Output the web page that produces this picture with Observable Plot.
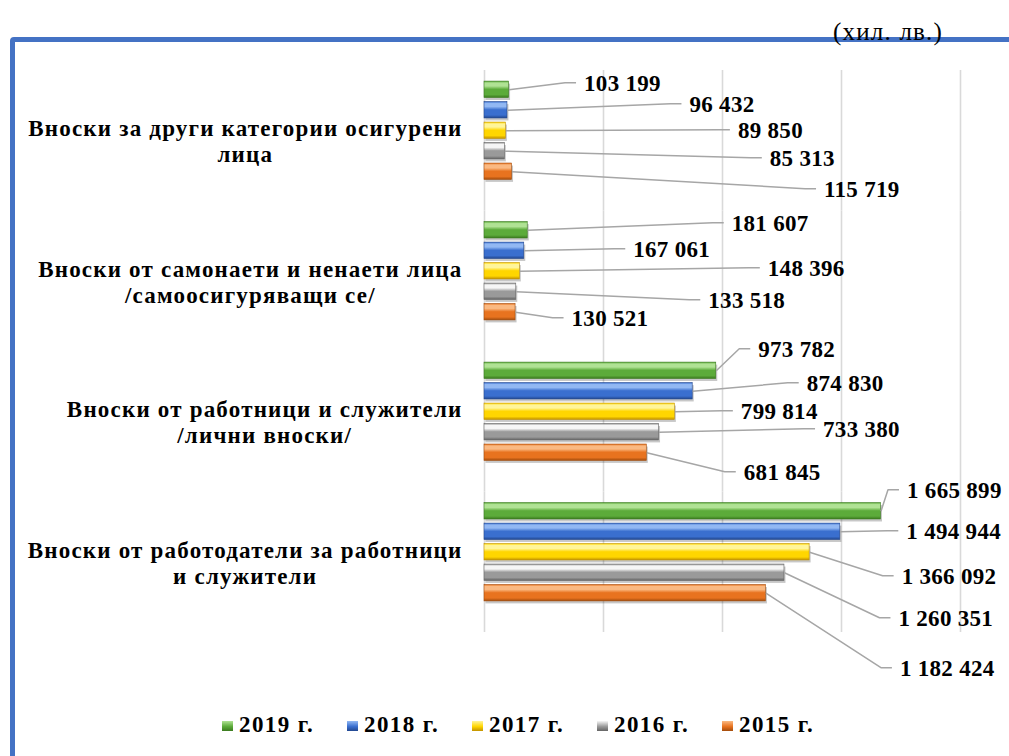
<!DOCTYPE html>
<html><head><meta charset="utf-8">
<script src="https://cdn.jsdelivr.net/npm/d3@7"></script>
<script src="https://cdn.jsdelivr.net/npm/@observablehq/plot@0.6"></script>
<style>
body{margin:0;background:#fff;overflow:hidden;width:1009px;height:756px;position:relative;font-family:"Liberation Serif","Times New Roman",serif;color:#000}
#frame{position:absolute;left:10px;top:37px;width:1100px;height:800px;border:5px solid #4472c4;border-radius:4px;box-sizing:border-box}
#unit{position:absolute;left:833px;top:17px;font-size:25px;letter-spacing:1.2px;line-height:29px}
#chart{position:absolute;left:0;top:0}
#legend{position:absolute;left:222px;top:712px;display:flex;font-weight:bold;font-size:23px;letter-spacing:1.4px}
.item{width:125px;display:flex;align-items:center;white-space:nowrap}
.sw{width:11px;height:10px;margin-right:6px;margin-top:2px}
.catlabel text{letter-spacing:1.2px}
.vallabel text{letter-spacing:0.3px}
</style></head><body>
<div id="frame"></div>
<div id="unit">(хил. лв.)</div>
<div id="chart"></div>
<div id="legend"></div>
<script>
// ---- data ----
const categories = [
  "Вноски за други категории осигурени лица",
  "Вноски от самонаети и ненаети лица /самоосигуряващи се/",
  "Вноски от работници и служители /лични вноски/",
  "Вноски от работодатели за работници и служители"
];
const categoryLines = [
  "Вноски за други категории осигурени\nлица",
  "Вноски от самонаети и ненаети лица\n/самоосигуряващи се/",
  "Вноски от работници и служители\n/лични вноски/",
  "Вноски от работодатели за работници\nи служители"
];
const years = ["2019", "2018", "2017", "2016", "2015"];
const v2019 = [103199, 181607, 973782, 1665899];
const v2018 = [96432, 167061, 874830, 1494944];
const v2017 = [89850, 148396, 799814, 1366092];
const v2016 = [85313, 133518, 733380, 1260351];
const v2015 = [115719, 130521, 681845, 1182424];
const gridTicks = [0, 500000, 1000000, 1500000, 2000000];

// ---- styling / label layout (pixel offsets of each data label from its bar end) ----
const baseColors  = ["#5cab3a", "#3a6fcf", "#ffd600", "#9a9a9a", "#e8731f"];
const lightColors = ["#b0e294", "#92b8f3", "#fff59a", "#f6f6f6", "#fab982"];
const darkColors  = ["#3b7a1f", "#22478f", "#c29200", "#646464", "#a34c0c"];
const labelOffsets = {
  "2019": [[75, -6], [204, -6.5], [42, -21], [26, -20.5]],
  "2018": [[182, -5.5], [109, -1], [114, -7.5], [66, 0]],
  "2017": [[232, 0], [248, -2.5], [66, 0], [92, 24.5]],
  "2016": [[265, 7.5], [192, 9], [164, -2.5], [114, 46]],
  "2015": [[312, 18], [56, 6.5], [97, 20], [134, 75.5]]
};

const seriesValues = {"2019": v2019, "2018": v2018, "2017": v2017, "2016": v2016, "2015": v2015};
const rows = [];
categories.forEach((cat, ci) => {
  years.forEach((yr, yi) => {
    const [dx, dy] = labelOffsets[yr][ci];
    rows.push({cat, year: yr, yi, value: seriesValues[yr][ci], dx, dy});
  });
});

const fmt = d3.formatLocale({decimal: ",", thousands: " ", grouping: [3], currency: ["", ""]}).format(",d");
const FONT = "'Liberation Serif', 'Times New Roman', serif";

function bendCurve(ctx) {
  let pts;
  return {
    areaStart() {}, areaEnd() {},
    lineStart() { pts = []; },
    point(x, y) { pts.push([+x, +y]); },
    lineEnd() {
      const [a, b] = pts;
      ctx.moveTo(a[0], a[1]);
      ctx.lineTo(b[0] - 11, b[1]);
      ctx.lineTo(b[0], b[1]);
    }
  };
}

// measure category label widths so the label block is right-aligned with centered lines
const CAT_SIZE = 23, CAT_LS = 1.2;
const cv = document.createElement("canvas").getContext("2d");
cv.font = `bold ${CAT_SIZE}px 'Liberation Serif'`;
const blockWidth = categoryLines.map(t => Math.max(...t.split("\n").map(s => cv.measureText(s).width + CAT_LS * s.length)));

const catMarks = categories.map((c, ci) => Plot.text([c], {
  fy: d => d, frameAnchor: "left", text: () => categoryLines[ci],
  textAnchor: "middle", lineAnchor: "middle", lineHeight: 26 / CAT_SIZE,
  dx: -22 - blockWidth[ci] / 2, dy: 10,
  fontWeight: "bold", fontSize: CAT_SIZE, fill: "#000", className: "catlabel"
}));

const chart = Plot.plot({
  width: 1009, height: 660,
  marginLeft: 484, marginRight: 49, marginTop: 60, marginBottom: 38,
  x: {domain: [0, 2000000], axis: null},
  y: {domain: years, paddingInner: 0.2, paddingOuter: 1.03, round: false, axis: null},
  fy: {domain: categories, paddingInner: 0, paddingOuter: 0, round: false, axis: null},
  style: {fontFamily: FONT, overflow: "visible", background: "transparent"},
  marks: [
    Plot.ruleX(gridTicks, {stroke: "#d9d9d9", strokeWidth: 1.6, dy: 10}),
    Plot.barX(rows, {x: "value", y: "year", fy: "cat", fill: "#000", fillOpacity: 0.22, dx: 1.5, dy: 2.5}),
    ...years.map((yr, k) => Plot.barX(rows.filter(r => r.year === yr), {
      x: "value", y: "year", fy: "cat", fill: `url(#grad${k})`, stroke: darkColors[k], strokeWidth: 0.6
    })),
    Plot.link(rows, {
      x1: "value", x2: "value", y1: "year", y2: "year", fy: "cat",
      stroke: "#a6a6a6", strokeWidth: 1.5, curve: bendCurve,
      render(index, scales, values, dims, ctx, next) {
        const X2 = Float64Array.from(values.x2, (x, i) => x + rows[i].dx - 8);
        const Y2 = Float64Array.from(values.y2, (y, i) => y + rows[i].dy - 1);
        return next(index, scales, {...values, x2: X2, y2: Y2}, dims, ctx);
      }
    }),
    Plot.text(rows, {
      x: "value", y: "year", fy: "cat", text: d => fmt(d.value), className: "vallabel",
      textAnchor: "start", lineAnchor: "middle", fontWeight: "bold", fontSize: 23, fill: "#000",
      render(index, scales, values, dims, ctx, next) {
        const X = Float64Array.from(values.x, (x, i) => x + rows[i].dx);
        const Y = Float64Array.from(values.y, (y, i) => y + rows[i].dy);
        return next(index, scales, {...values, x: X, y: Y}, dims, ctx);
      }
    }),
    ...catMarks
  ]
});

// gradient definitions for the bevelled bars
const ns = "http://www.w3.org/2000/svg";
const svgEl = chart.tagName.toLowerCase() === "svg" ? chart : chart.querySelector("svg");
const defs = document.createElementNS(ns, "defs");
years.forEach((yr, k) => {
  const g = document.createElementNS(ns, "linearGradient");
  g.setAttribute("id", `grad${k}`);
  g.setAttribute("x1", "0"); g.setAttribute("y1", "0"); g.setAttribute("x2", "0"); g.setAttribute("y2", "1");
  [[0, baseColors[k]], [0.12, lightColors[k]], [0.3, lightColors[k]], [0.5, baseColors[k]], [0.82, baseColors[k]], [1, darkColors[k]]]
    .forEach(([o, c]) => {
      const s = document.createElementNS(ns, "stop");
      s.setAttribute("offset", o); s.setAttribute("stop-color", c);
      g.appendChild(s);
    });
  defs.appendChild(g);
});
svgEl.insertBefore(defs, svgEl.firstChild);
document.getElementById("chart").appendChild(chart);

// legend
const legend = document.getElementById("legend");
years.forEach((yr, k) => {
  const it = document.createElement("div");
  it.className = "item";
  const sw = document.createElement("span");
  sw.className = "sw";
  sw.style.background = `linear-gradient(${lightColors[k]}, ${baseColors[k]} 55%, ${darkColors[k]})`;
  it.appendChild(sw);
  it.appendChild(document.createTextNode(yr + " г."));
  legend.appendChild(it);
});
</script>
</body></html>
